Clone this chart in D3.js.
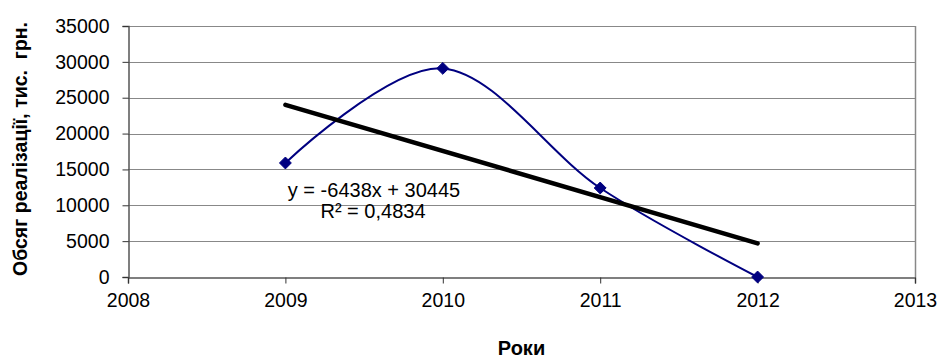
<!DOCTYPE html>
<html><head><meta charset="utf-8">
<script src="https://cdn.jsdelivr.net/npm/d3@7"></script>
<style>body{margin:0;background:#fff}svg{display:block}text{font-family:"Liberation Sans",Arial,sans-serif}</style>
</head><body><svg id="c" width="942" height="358"></svg>
<script>
const years = [2009, 2010, 2011, 2012];
const sales = [15900, 29090, 12410, 0];
const xTicks = [2008, 2009, 2010, 2011, 2012, 2013];
const yTicks = [0, 5000, 10000, 15000, 20000, 25000, 30000, 35000];
const trendSlope = -6438, trendIntercept = 30445;
const eqText = "y = -6438x + 30445";
const r2Text = "R² = 0,4834";
const yTitle = "Обсяг реалізації, тис.  грн.";
const xTitle = "Роки";

const svg = d3.select("#c");
const L = 128, R = 915, T = 26, B = 277;
const x = d3.scaleLinear().domain([2008, 2013]).range([L, R]);
const y = d3.scaleLinear().domain([0, 35000]).range([B, T]);
const FS = 19.5;

// gridlines
svg.append("g").selectAll("line").data(yTicks.filter(d => d > 0)).join("line")
  .attr("x1", L).attr("x2", R).attr("y1", d => Math.round(y(d)) + 0.5).attr("y2", d => Math.round(y(d)) + 0.5)
  .attr("stroke", "#888").attr("stroke-width", 1);
// right border
svg.append("line").attr("x1", R + 0.5).attr("x2", R + 0.5).attr("y1", T).attr("y2", B)
  .attr("stroke", "#888").attr("stroke-width", 1.5);

// axes
const yAxis = svg.append("g").attr("transform", `translate(${L + 0.5},0)`)
  .call(d3.axisLeft(y).tickValues(yTicks).tickSize(6).tickPadding(13).tickFormat(d3.format("d")));
const xAxis = svg.append("g").attr("transform", `translate(0,${B + 0.5})`)
  .call(d3.axisBottom(x).tickValues(xTicks).tickSize(6).tickPadding(10).tickFormat(d3.format("d")));
[yAxis, xAxis].forEach(g => {
  g.select(".domain").attr("stroke", "#555").attr("stroke-width", 1.5);
  g.selectAll(".tick line").attr("stroke", "#333");
  g.selectAll("text").attr("font-size", FS).attr("fill", "#000").attr("font-family", '"Liberation Sans",Arial,sans-serif');
});

// data line (smoothed)
const pts = years.map((yr, i) => [yr, sales[i]]);
svg.append("path").datum(pts)
  .attr("d", d3.line().x(d => x(d[0])).y(d => y(d[1])).curve(d3.curveCardinal.tension(0)))
  .attr("fill", "none").attr("stroke", "#000080").attr("stroke-width", 2);

// trend line
const tr = [years[0], years[years.length - 1]].map(yr => [yr, trendSlope * (yr - years[0] + 1) + trendIntercept]);
svg.append("path").datum(tr)
  .attr("d", d3.line().x(d => x(d[0])).y(d => y(d[1])))
  .attr("fill", "none").attr("stroke", "#000").attr("stroke-width", 4.5).attr("stroke-linecap", "round");

// markers
svg.append("g").selectAll("path").data(pts).join("path")
  .attr("d", d3.symbol(d3.symbolDiamond2, 90)())
  .attr("transform", d => `translate(${x(d[0])},${y(d[1])})`)
  .attr("fill", "#000080").attr("stroke", "#000080").attr("stroke-width", 1);

// equation
svg.append("text").attr("x", 374).attr("y", 197).attr("text-anchor", "middle")
  .attr("font-size", 20).text(eqText);
svg.append("text").attr("x", 373).attr("y", 218).attr("text-anchor", "middle")
  .attr("font-size", 20).text(r2Text);

// titles
svg.append("text").attr("transform", "translate(27,149) rotate(-90)").attr("text-anchor", "middle")
  .attr("font-size", 19.5).attr("font-weight", "bold").style("white-space", "pre").text(yTitle);
svg.append("text").attr("x", (L + R) / 2).attr("y", 355).attr("text-anchor", "middle")
  .attr("font-size", 20).attr("font-weight", "bold").text(xTitle);
</script></body></html>
